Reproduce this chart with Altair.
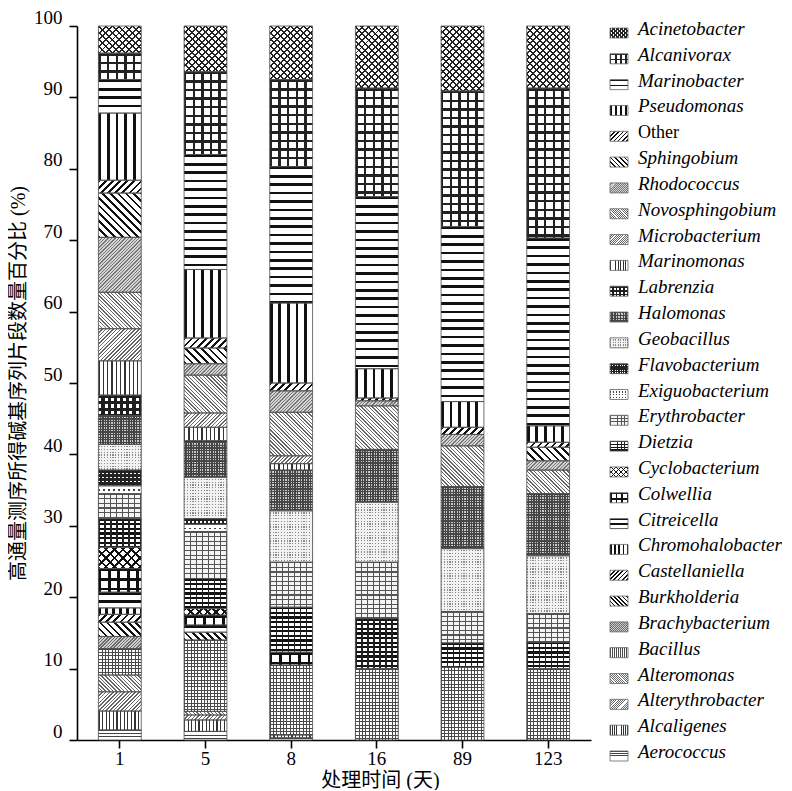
import math
import altair as alt
import pandas as pd

# ---------------- data ----------------
DAYS = ["1", "5", "8", "16", "89", "123"]
CATS = [
    "Acinetobacter", "Alcanivorax", "Marinobacter", "Pseudomonas", "Other",
    "Sphingobium", "Rhodococcus", "Novosphingobium", "Microbacterium", "Marinomonas",
    "Labrenzia", "Halomonas", "Geobacillus", "Flavobacterium", "Exiguobacterium",
    "Erythrobacter", "Dietzia", "Cyclobacterium", "Colwellia", "Citreicella",
    "Chromohalobacter", "Castellaniella", "Burkholderia", "Brachybacterium", "Bacillus",
    "Alteromonas", "Alterythrobacter", "Alcaligenes", "Aerococcus",
]
ACINETOBACTER = [3.8, 6.4, 7.5, 8.7, 9.1, 8.7]
ALCANIVORAX = [3.7, 11.6, 12.2, 15.2, 19.0, 21.0]
MARINOBACTER = [4.7, 16.1, 19.1, 24.1, 24.5, 26.3]
PSEUDOMONAS = [9.4, 9.6, 11.2, 4.1, 3.6, 2.3]
OTHER = [1.8, 1.4, 1.1, 0.4, 1.0, 0.7]
SPHINGOBIUM = [6.2, 2.2, 0, 0, 0, 1.9]
RHODOCOCCUS = [7.7, 1.6, 3.0, 0.7, 1.6, 1.3]
NOVOSPHINGOBIUM = [5.1, 5.3, 6.1, 6.1, 5.7, 3.3]
MICROBACTERIUM = [4.5, 2.0, 1.1, 0, 0, 0]
MARINOMONAS = [4.8, 1.9, 0.9, 0, 0, 0]
LABRENZIA = [2.9, 0.2, 0, 0, 0, 0]
HALOMONAS = [4.0, 4.9, 5.7, 7.4, 8.7, 8.7]
GEOBACILLUS = [3.6, 5.8, 7.2, 8.4, 8.8, 8.1]
FLAVOBACTERIUM = [2.2, 0.8, 0, 0, 0, 0]
EXIGUOBACTERIUM = [1.1, 1.0, 0, 0, 0, 0]
ERYTHROBACTER = [3.5, 6.6, 6.3, 7.9, 4.4, 4.0]
DIETZIA = [4.0, 4.2, 6.3, 7.0, 3.4, 3.7]
CYCLOBACTERIUM = [3.0, 0.9, 0, 0, 0, 0]
COLWELLIA = [3.3, 1.4, 1.8, 0, 0, 0]
CITREICELLA = [2.2, 1.0, 0, 0, 0, 0]
CHROMOHALOBACTER = [0.9, 0, 0, 0, 0, 0]
CASTELLANIELLA = [1.1, 0, 0, 0, 0, 0]
BURKHOLDERIA = [2.0, 1.1, 0, 0, 0, 0]
BRACHYBACTERIUM = [1.7, 0, 0, 0, 0, 0]
BACILLUS = [3.7, 10.0, 9.8, 10.0, 10.2, 10.0]
ALTEROMONAS = [2.35, 0.5, 0, 0, 0, 0]
ALTERYTHROBACTER = [2.7, 0.7, 0, 0, 0, 0]
ALCALIGENES = [2.65, 1.6, 0.4, 0, 0, 0]
AEROCOCCUS = [1.4, 1.2, 0.3, 0, 0, 0]

SERIES = [
    ACINETOBACTER, ALCANIVORAX, MARINOBACTER, PSEUDOMONAS, OTHER,
    SPHINGOBIUM, RHODOCOCCUS, NOVOSPHINGOBIUM, MICROBACTERIUM, MARINOMONAS,
    LABRENZIA, HALOMONAS, GEOBACILLUS, FLAVOBACTERIUM, EXIGUOBACTERIUM,
    ERYTHROBACTER, DIETZIA, CYCLOBACTERIUM, COLWELLIA, CITREICELLA,
    CHROMOHALOBACTER, CASTELLANIELLA, BURKHOLDERIA, BRACHYBACTERIUM, BACILLUS,
    ALTEROMONAS, ALTERYTHROBACTER, ALCALIGENES, AEROCOCCUS,
]

Y_TITLE = "高通量测序所得碱基序列片段数量百分比 (%)"
X_TITLE = "处理时间 (天)"

# ---------------- styles (hatch patterns) ----------------
CLEAR = "rgba(0,0,0,0)"
# kind: h = horizontal lines, v = vertical, d = "/", b = "\"
PATTERNS = {
    "Acinetobacter": ("#ffffff", [("d", 4.7, 1.4, "#222"), ("b", 4.7, 1.4, "#222")]),
    "Alcanivorax": ("#ffffff", [("v", 8.6, 2.4, "#222"), ("h", 8.6, 2.4, "#222")]),
    "Marinobacter": ("#ffffff", [("h", 8.4, 2.6, "#111")]),
    "Pseudomonas": ("#ffffff", [("v", 8.6, 2.8, "#111")]),
    "Other": ("#ffffff", [("d", 5.0, 1.9, "#111")]),
    "Sphingobium": ("#ffffff", [("b", 5.5, 1.9, "#111")]),
    "Rhodococcus": ("#d4d4d4", [("d", 2.4, 1.0, "#777")]),
    "Novosphingobium": ("#ffffff", [("b", 2.6, 1.0, "#666")]),
    "Microbacterium": ("#ffffff", [("d", 2.6, 1.0, "#666")]),
    "Marinomonas": ("#ffffff", [("v", 4.3, 1.3, "#333")]),
    "Labrenzia": ("#1e1e1e", [("v", 6.2, 3.0, "#ffffff"), ("h", 6.2, 3.0, "#1e1e1e")]),
    "Halomonas": ("#454545", [("v", 2.6, 1.2, "#c8c8c8"), ("h", 2.6, 1.2, "#454545")]),
    "Geobacillus": ("#f2f2f2", [("v", 2.8, 1.2, "#8a8a8a"), ("h", 2.8, 1.5, "#f2f2f2")]),
    "Flavobacterium": ("#222222", [("v", 4.0, 1.6, "#ffffff"), ("h", 4.0, 2.4, "#222222")]),
    "Exiguobacterium": ("#ffffff", [("v", 5.0, 1.6, "#444"), ("h", 5.0, 3.2, "#ffffff")]),
    "Erythrobacter": ("#f4f4f4", [("h", 4.6, 1.1, "#555"), ("v", 6.0, 1.0, "#555")]),
    "Dietzia": ("#ffffff", [("h", 4.6, 2.2, "#111"), ("v", 6.0, 1.2, "#222")]),
    "Cyclobacterium": ("#ffffff", [("d", 6.0, 1.8, "#111"), ("b", 6.0, 1.8, "#111")]),
    "Colwellia": ("#ffffff", [("v", 9.5, 2.6, "#111"), ("h", 9.5, 2.6, "#111")]),
    "Citreicella": ("#ffffff", [("h", 8.0, 3.0, "#111")]),
    "Chromohalobacter": ("#ffffff", [("v", 7.0, 3.0, "#111")]),
    "Castellaniella": ("#ffffff", [("d", 5.0, 2.0, "#111")]),
    "Burkholderia": ("#ffffff", [("b", 5.0, 2.0, "#111")]),
    "Brachybacterium": ("#cfcfcf", [("d", 2.3, 1.0, "#6a6a6a")]),
    "Bacillus": ("#ffffff", [("v", 3.3, 1.0, "#4a4a4a"), ("h", 3.3, 1.0, "#4a4a4a")]),
    "Alteromonas": ("#ffffff", [("b", 2.6, 1.0, "#666")]),
    "Alterythrobacter": ("#ffffff", [("d", 2.6, 1.0, "#666")]),
    "Alcaligenes": ("#ffffff", [("v", 3.6, 1.2, "#333")]),
    "Aerococcus": ("#ffffff", [("h", 3.2, 1.0, "#444")]),
}
DIRS = {"h": (0.0, 1.0), "v": (1.0, 0.0), "d": (0.70711, 0.70711), "b": (0.70711, -0.70711)}

# ---------------- layout ----------------
PLOT_W, PLOT_H = 514, 714
PAD_INNER, PAD_OUTER = 0.5, 0.25
BAR_W = PLOT_W / (len(DAYS) - PAD_INNER + 2 * PAD_OUTER) * (1 - PAD_INNER)
PXU = PLOT_H / 100.0
HEXPR = f"((datum.y1 - datum.y0) * {PXU:.4f})"
LEG_W, LEG_SPACING = 175, 10
SW_W, SW_H = 18, 10
SW_X, TXT_X = 18, 37
LEG_RANGE = [7, 730]
LEG_SCALE = 0.6
SERIF = "Liberation Serif"
CJK = "Liberation Serif, Noto Sans CJK SC"


def stops_literal(n, frac, fg, bg):
    parts = []
    for i in range(n):
        a, b, c = i / n, (i + frac) / n, (i + 1) / n
        for off, col in ((a, fg), (b, fg), (b, bg), (c, bg)):
            parts.append(f"{{offset:{off:.5f},color:'{col}'}}")
    return "[" + ",".join(parts) + "]"


def grad_expr(kind, period, lw, fg, bg, w, hexpr, hmax):
    cx, cy = DIRS[kind]
    n = int(math.ceil((abs(cx) * w + abs(cy) * hmax) / period)) + 2
    st = stops_literal(n, min(lw / period, 0.95), fg, bg)
    x1 = 1 if cx < 0 else 0
    y1 = 1 if cy < 0 else 0
    npd = n * period
    if cy == 0:
        x2 = f"{x1 + npd / (cx * w):.5f}"
        y2 = f"{y1}"
    elif cx == 0:
        x2 = "0.000001"
        y2 = f"({y1} + {npd / cy:.4f} / {hexpr})"
    else:
        d = f"({cx * cx * w * w:.4f} + {cy * cy:.4f} * {hexpr} * {hexpr})"
        x2 = f"({x1} + {npd * cx * w:.4f} / {d})"
        y2 = f"({y1} + {npd * cy:.4f} * {hexpr} / {d})"
    return f"{{gradient:'linear',x1:{x1},y1:{y1},x2:{x2},y2:{y2},stops:{st}}}"


# ---------------- main stacked bars ----------------
rows = []
for i, (cat, vals) in enumerate(zip(CATS, SERIES)):
    for d, v in zip(DAYS, vals):
        rows.append({"cat": cat, "day": d, "value": v, "order": len(CATS) - 1 - i})
df = pd.DataFrame(rows)

X = alt.X(
    "day:N", sort=DAYS,
    scale=alt.Scale(paddingInner=PAD_INNER, paddingOuter=PAD_OUTER),
    axis=alt.Axis(
        title=X_TITLE, labelAngle=0, labelFont=SERIF, labelFontSize=19, labelColor="black",
        labelBaseline="top", labelPadding=1,
        domainColor="black", domainWidth=1.6, tickColor="black", tickWidth=1.6, tickSize=8,
        titleFont=CJK, titleFontSize=20, titleFontWeight="normal", titleColor="black",
        titleX=303, titleY=40, titleAlign="center", titleBaseline="middle",
    ),
)
Y = alt.Y(
    "y0:Q",
    scale=alt.Scale(domain=[0, 100], nice=False),
    axis=alt.Axis(
        title=Y_TITLE, values=list(range(0, 101, 10)), grid=False,
        labelFont=SERIF, labelFontSize=19, labelColor="black", labelPadding=7,
        labelBaseline="alphabetic", labelOffset=-3, labelFlush=False, labelOverlap=False,
        domainColor="black", domainWidth=1.6, tickColor="black", tickWidth=1.6, tickSize=8,
        titleFont=CJK, titleFontSize=20, titleFontWeight="normal", titleColor="black",
        titlePadding=5,
    ),
)
Y2 = alt.Y2("y1:Q")

bar_layers = []
for cat, vals in zip(CATS, SERIES):
    base, pats = PATTERNS[cat]
    hmax = max(vals) * PXU
    for j, (kind, period, lw, fg) in enumerate(pats):
        bg = base if j == 0 else CLEAR
        expr = grad_expr(kind, period, lw, fg, bg, BAR_W, HEXPR, hmax)
        bar_layers.append(
            alt.Chart()
            .transform_filter(alt.datum.cat == cat)
            .mark_bar(strokeWidth=0)
            .encode(x=X, y=Y, y2=Y2, fill=alt.value({"expr": expr}))
        )
bar_layers.append(
    alt.Chart().mark_bar(fill=CLEAR, stroke="#4d4d4d", strokeWidth=0.8).encode(x=X, y=Y, y2=Y2)
)

main = (
    alt.layer(*bar_layers, data=df)
    .transform_filter("datum.value > 0")
    .transform_stack(stack="value", as_=["y0", "y1"], groupby=["day"],
                     sort=[alt.SortField("order", order="ascending")])
    .properties(width=PLOT_W, height=PLOT_H)
)

# ---------------- legend ----------------
leg_df = pd.DataFrame({"cat": CATS})
YL = alt.Y("cat:N", sort=CATS, scale=alt.Scale(type="point", range=LEG_RANGE, padding=0), axis=None)
half = SW_H / SW_W
SW_PATH = f"M-1,-{half:.4f}H1V{half:.4f}H-1Z"
SW_SIZE = SW_W * SW_W

leg_layers = []
for cat in CATS:
    base, pats = PATTERNS[cat]
    for j, (kind, period, lw, fg) in enumerate(pats):
        bg = base if j == 0 else CLEAR
        expr = grad_expr(kind, period * LEG_SCALE, max(lw * LEG_SCALE, 0.7), fg, bg,
                         SW_W, str(SW_H), SW_H)
        leg_layers.append(
            alt.Chart()
            .transform_filter(alt.datum.cat == cat)
            .mark_point(shape=SW_PATH, size=SW_SIZE, filled=True, opacity=1, strokeWidth=0)
            .encode(x=alt.value(SW_X), y=YL, fill=alt.value({"expr": expr}))
        )
leg_layers.append(
    alt.Chart()
    .mark_point(shape=SW_PATH, size=SW_SIZE, filled=False, opacity=1, color="#666", strokeWidth=0.8)
    .encode(x=alt.value(SW_X), y=YL)
)
leg_layers.append(
    alt.Chart()
    .transform_filter(alt.datum.cat != "Other")
    .mark_text(align="left", baseline="alphabetic", dy=2, font=SERIF, fontSize=19,
               fontStyle="italic", color="black")
    .encode(x=alt.value(TXT_X), y=YL, text="cat:N")
)
leg_layers.append(
    alt.Chart()
    .transform_filter(alt.datum.cat == "Other")
    .mark_text(align="left", baseline="alphabetic", dy=2, font=SERIF, fontSize=18, color="black")
    .encode(x=alt.value(TXT_X), y=YL, text="cat:N")
)
legend = alt.layer(*leg_layers, data=leg_df).properties(width=LEG_W, height=PLOT_H)

chart = (
    alt.hconcat(main, legend, spacing=LEG_SPACING)
    .properties(padding={"left": 0, "top": 0, "right": 0, "bottom": 0})
    .configure_view(strokeWidth=0)
)

chart.save("out.html", embed_options={"renderer": "svg", "actions": False})
